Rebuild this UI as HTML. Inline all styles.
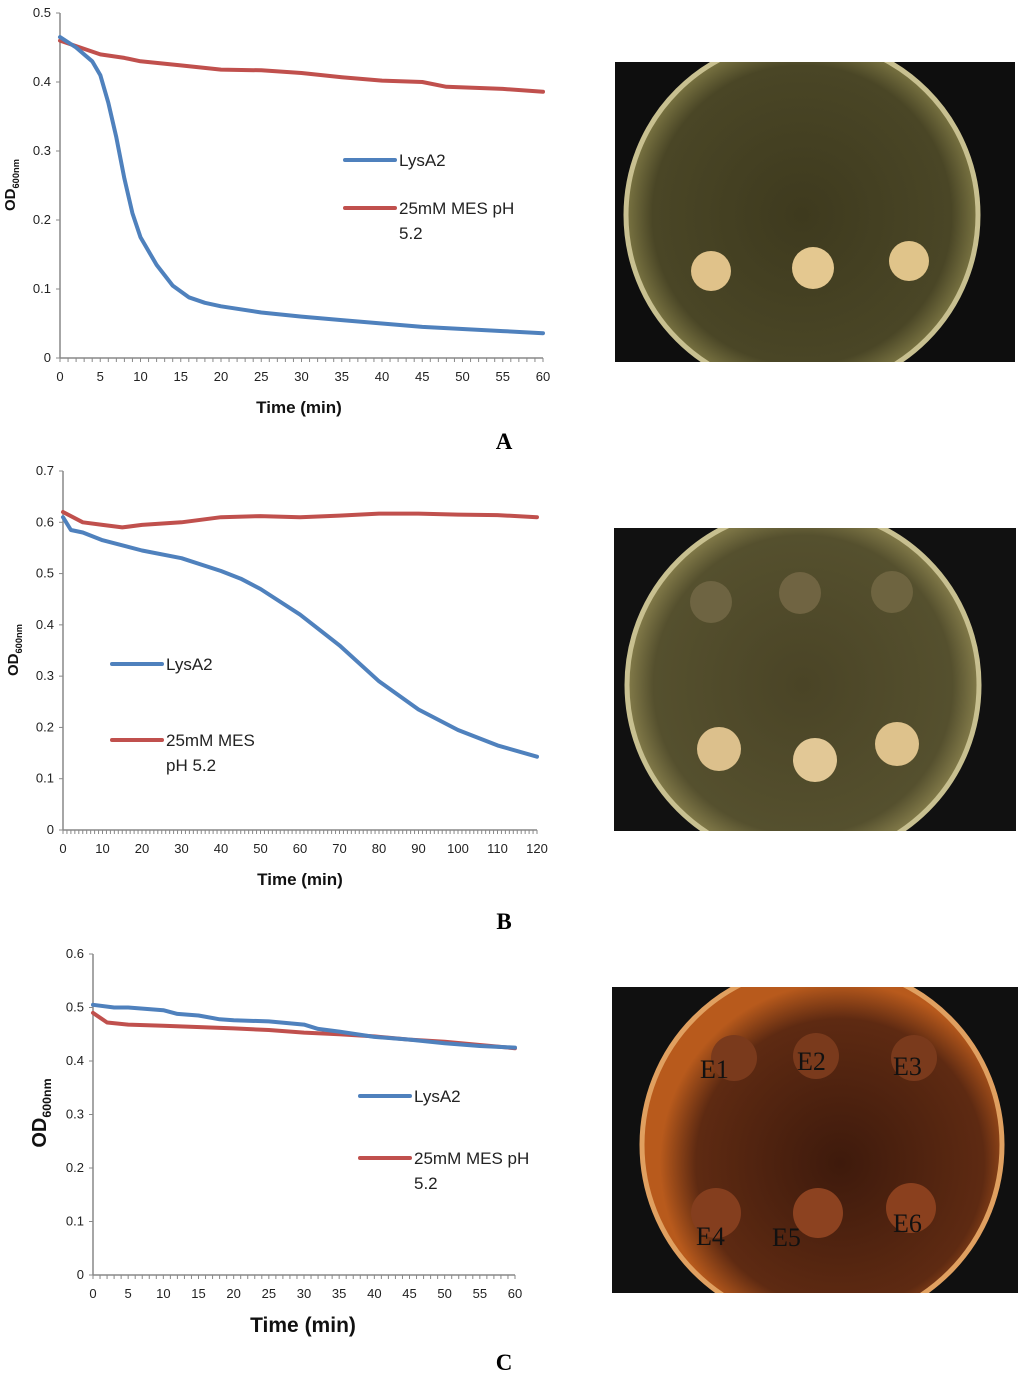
<!DOCTYPE html>
<html><head><meta charset="utf-8"><style>
html,body{margin:0;padding:0;background:#fff;}
svg{display:block;font-family:"Liberation Sans",sans-serif;}
</style></head><body>
<svg id="root" width="1024" height="1376" viewBox="0 0 1024 1376">
<defs>
<radialGradient id="gA" cx="0.5" cy="0.5" r="0.5"><stop offset="0" stop-color="#3e3a1e"/><stop offset="0.85" stop-color="#4a4626"/><stop offset="1" stop-color="#7a7442"/></radialGradient>
<radialGradient id="gB" cx="0.5" cy="0.5" r="0.5"><stop offset="0" stop-color="#4a4426"/><stop offset="0.85" stop-color="#55502e"/><stop offset="1" stop-color="#847c4a"/></radialGradient>
<radialGradient id="gC" cx="0.55" cy="0.55" r="0.5"><stop offset="0" stop-color="#3e1a0c"/><stop offset="0.8" stop-color="#5e2a12"/><stop offset="1" stop-color="#b85a1c"/></radialGradient>
<clipPath id="cA"><rect x="615" y="62" width="400" height="300"/></clipPath>
<clipPath id="cB"><rect x="614" y="528" width="402" height="303"/></clipPath>
<clipPath id="cC"><rect x="612" y="987" width="406" height="306"/></clipPath>
</defs>
<g id="charts"></g>
<g id="photos">
 <g clip-path="url(#cA)">
  <rect x="615" y="62" width="400" height="300" fill="#0e0e0e"/>
  <circle cx="802" cy="215" r="176" fill="url(#gA)" stroke="#c8c090" stroke-width="5"/>
  <circle cx="711" cy="271" r="20" fill="#e0c28a"/><circle cx="813" cy="268" r="21" fill="#e4c890"/><circle cx="909" cy="261" r="20" fill="#e0c48a"/>
 </g>
 <g clip-path="url(#cB)">
  <rect x="614" y="528" width="402" height="303" fill="#111"/>
  <circle cx="803" cy="685" r="176" fill="url(#gB)" stroke="#c8c090" stroke-width="5"/>
  <circle cx="711" cy="602" r="21" fill="#6e6442"/><circle cx="800" cy="593" r="21" fill="#706442"/><circle cx="892" cy="592" r="21" fill="#6e6440"/>
  <circle cx="719" cy="749" r="22" fill="#dcc08c"/><circle cx="815" cy="760" r="22" fill="#e2c896"/><circle cx="897" cy="744" r="22" fill="#dec28c"/>
 </g>
 <g clip-path="url(#cC)">
  <rect x="612" y="987" width="406" height="306" fill="#101010"/>
  <circle cx="822" cy="1145" r="180" fill="url(#gC)" stroke="#e0a060" stroke-width="5"/>
  <circle cx="734" cy="1058" r="23" fill="#7a3a1c"/><circle cx="816" cy="1056" r="23" fill="#7a3a1c"/><circle cx="914" cy="1058" r="23" fill="#7a3a1c"/>
  <circle cx="716" cy="1213" r="25" fill="#843e1e"/><circle cx="818" cy="1213" r="25" fill="#8c4220"/><circle cx="911" cy="1208" r="25" fill="#8a401e"/>
  <text x="700" y="1078" font-size="26" fill="#111" font-family="Liberation Serif">E1</text>
  <text x="797" y="1070" font-size="26" fill="#111" font-family="Liberation Serif">E2</text>
  <text x="893" y="1075" font-size="26" fill="#111" font-family="Liberation Serif">E3</text>
  <text x="696" y="1245" font-size="26" fill="#111" font-family="Liberation Serif">E4</text>
  <text x="772" y="1246" font-size="26" fill="#111" font-family="Liberation Serif">E5</text>
  <text x="893" y="1232" font-size="26" fill="#111" font-family="Liberation Serif">E6</text>
 </g>
</g>
<text x="504" y="449" font-size="23" font-weight="bold" text-anchor="middle" font-family="Liberation Serif">A</text>
<text x="504" y="929" font-size="23" font-weight="bold" text-anchor="middle" font-family="Liberation Serif">B</text>
<text x="504" y="1370" font-size="23" font-weight="bold" text-anchor="middle" font-family="Liberation Serif">C</text>
</svg>
<script>
// Panel A data
const aTime=[0,2,4,5,6,7,8,9,10,12,14,16,18,20,25,30,35,40,45,50,55,60];
const aLys=[0.465,0.45,0.43,0.41,0.37,0.32,0.26,0.21,0.175,0.135,0.105,0.088,0.08,0.075,0.066,0.06,0.055,0.05,0.045,0.042,0.039,0.036];
const aMesTime=[0,5,8,10,15,20,25,30,35,40,45,48,55,60];
const aMes=[0.46,0.44,0.435,0.43,0.424,0.418,0.417,0.413,0.407,0.402,0.4,0.393,0.39,0.386];
const aXTicks=[0,5,10,15,20,25,30,35,40,45,50,55,60];
const aYTicks=[0,0.1,0.2,0.3,0.4,0.5];
// Panel B data
const bTime=[0,2,5,10,20,30,40,45,50,60,70,80,90,100,110,120];
const bLys=[0.61,0.585,0.58,0.565,0.545,0.53,0.505,0.49,0.47,0.42,0.36,0.29,0.235,0.195,0.165,0.143];
const bMesTime=[0,5,10,15,20,30,40,50,60,70,80,90,100,110,120];
const bMes=[0.62,0.6,0.595,0.59,0.595,0.6,0.61,0.612,0.61,0.613,0.617,0.617,0.615,0.614,0.61];
const bXTicks=[0,10,20,30,40,50,60,70,80,90,100,110,120];
const bYTicks=[0,0.1,0.2,0.3,0.4,0.5,0.6,0.7];
// Panel C data
const cTime=[0,3,5,10,12,15,18,20,25,30,32,35,40,45,50,55,60];
const cLys=[0.505,0.5,0.5,0.495,0.488,0.485,0.478,0.476,0.474,0.468,0.46,0.455,0.445,0.44,0.433,0.428,0.425];
const cMesTime=[0,2,5,10,20,25,30,35,40,45,50,55,60];
const cMes=[0.49,0.472,0.468,0.466,0.461,0.458,0.453,0.45,0.446,0.44,0.436,0.43,0.424];
const cXTicks=[0,5,10,15,20,25,30,35,40,45,50,55,60];
const cYTicks=[0,0.1,0.2,0.3,0.4,0.5,0.6];

const NS='http://www.w3.org/2000/svg';
const root=document.getElementById('charts');
function mk(tag,attrs,parent){const e=document.createElementNS(NS,tag);for(const k in attrs)e.setAttribute(k,attrs[k]);(parent||root).appendChild(e);return e;}

function chart(cfg){
  const g=mk('g',{});
  
  
  const xs=v=>cfg.x0+(v-cfg.xmin)/(cfg.xmax-cfg.xmin)*(cfg.x1-cfg.x0);
  const ys=v=>cfg.y0-(v-cfg.ymin)/(cfg.ymax-cfg.ymin)*(cfg.y0-cfg.y1);
  const yax=mk('line',{x1:cfg.x0,y1:cfg.y0,x2:cfg.x0,y2:cfg.y1,stroke:'#888','stroke-width':1.5},g);
  
  
  const xax=mk('line',{x1:cfg.x0,y1:cfg.y0,x2:cfg.x1,y2:cfg.y0,stroke:'#888','stroke-width':1.5},g);
  
  
  cfg.yTicks.forEach(v=>{
    mk('line',{x1:cfg.x0-4,y1:ys(v),x2:cfg.x0,y2:ys(v),stroke:'#888'},g);
    const t=mk('text',{x:cfg.x0-9,y:ys(v)+4,'font-size':cfg.fs,'text-anchor':'end',fill:'#222'},g);
    t.textContent=String(v);
    
    
  });
  for(let m=cfg.xmin;m<=cfg.xmax;m+=cfg.minor){mk('line',{x1:xs(m),y1:cfg.y0,x2:xs(m),y2:cfg.y0+4,stroke:'#888','stroke-width':1},g);}
  cfg.xTicks.forEach(v=>{
    const t=mk('text',{x:xs(v),y:cfg.y0+23,'font-size':cfg.fs,'text-anchor':'middle',fill:'#222'},g);
    t.textContent=String(v);
    
    
  });
  const xt=mk('text',{x:cfg.xtX,y:cfg.xtY,'font-size':cfg.tfs,'font-weight':'bold','text-anchor':'middle',fill:'#111'},g);
  xt.textContent='Time (min)';
  
  
  const yt=mk('text',{x:0,y:0,'font-size':cfg.yfs,'font-weight':'bold','text-anchor':'middle',fill:'#111',transform:'translate('+cfg.ytX+','+cfg.ytY+') rotate(-90)'},g);
  yt.innerHTML='OD<tspan font-size="'+(cfg.yfs*0.62)+'" dy="'+(cfg.yfs*0.25)+'">600nm</tspan>';
  
  
  function series(tx,vals,color,name){
    const d=tx.map((t,i)=>(i?'L':'M')+xs(t).toFixed(1)+','+ys(vals[i]).toFixed(1)).join(' ');
    const p=mk('path',{d:d,fill:'none',stroke:color,'stroke-width':4,'stroke-linejoin':'round','stroke-linecap':'round'},g);
    
    
  }
  series(cfg.mesT,cfg.mes,'#c0504d','line-mes-buffer');
  series(cfg.lysT,cfg.lys,'#4f81bd','line-lysa2');
  const L=cfg.leg;
  const l1=mk('line',{x1:L.x,y1:L.y1,x2:L.x+50,y2:L.y1,stroke:'#4f81bd','stroke-width':4,'stroke-linecap':'round'},g);
  
  
  const t1=mk('text',{x:L.x+54,y:L.y1+6,'font-size':17,fill:'#222'},g);
  t1.textContent='LysA2';
  
  
  const l2=mk('line',{x1:L.x,y1:L.y2,x2:L.x+50,y2:L.y2,stroke:'#c0504d','stroke-width':4,'stroke-linecap':'round'},g);
  
  
  const t2=mk('text',{x:L.x+54,y:L.y2+6,'font-size':17,fill:'#222'},g);
  t2.innerHTML=L.a+'<tspan x="'+(L.x+54)+'" dy="25">'+L.b+'</tspan>';
  
  
}
chart({id:'a',x0:60,x1:543,y0:358,y1:13,xmin:0,xmax:60,ymin:0,ymax:0.5,minor:1,xTicks:aXTicks,yTicks:aYTicks,lysT:aTime,lys:aLys,mesT:aMesTime,mes:aMes,fs:13,tfs:17,yfs:15,xtX:299,xtY:413,ytX:15,ytY:185,leg:{x:345,y1:160,y2:208,a:'25mM MES pH',b:'5.2'}});
chart({id:'b',x0:63,x1:537,y0:830,y1:471,xmin:0,xmax:120,ymin:0,ymax:0.7,minor:1,xTicks:bXTicks,yTicks:bYTicks,lysT:bTime,lys:bLys,mesT:bMesTime,mes:bMes,fs:13,tfs:17,yfs:15,xtX:300,xtY:885,ytX:18,ytY:650,leg:{x:112,y1:664,y2:740,a:'25mM MES',b:'pH 5.2'}});
chart({id:'c',x0:93,x1:515,y0:1275,y1:954,xmin:0,xmax:60,ymin:0,ymax:0.6,minor:1,xTicks:cXTicks,yTicks:cYTicks,lysT:cTime,lys:cLys,mesT:cMesTime,mes:cMes,fs:13,tfs:21,yfs:20,xtX:303,xtY:1332,ytX:46,ytY:1113,leg:{x:360,y1:1096,y2:1158,a:'25mM MES pH',b:'5.2'}});
</script>
</body></html>
